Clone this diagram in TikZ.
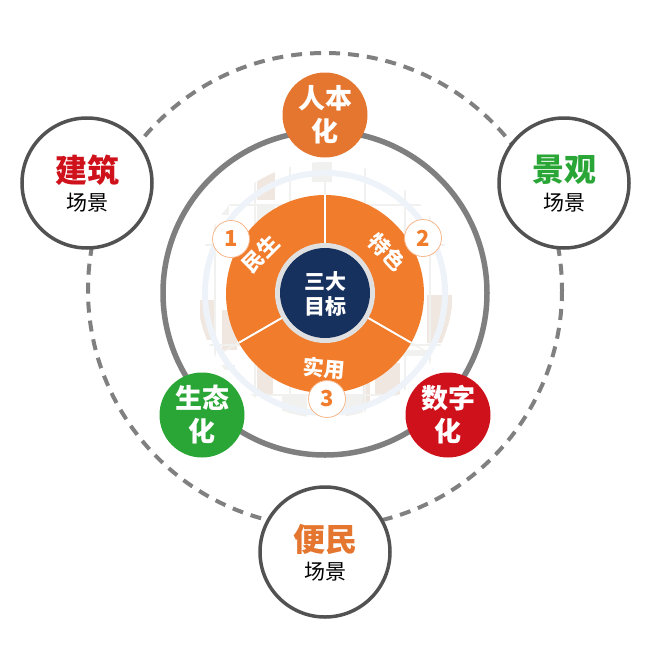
\documentclass[tikz,border=0pt]{standalone}
\usepackage{fontspec}
\setmainfont{Noto Sans CJK SC}
\usetikzlibrary{positioning}
\definecolor{ringgray}{HTML}{7F7F7F}
\definecolor{dashgray}{HTML}{808080}
\definecolor{discorange}{HTML}{F07C2C}
\definecolor{topic}{HTML}{E5762F}
\definecolor{navy}{HTML}{17315F}
\definecolor{leafgreen}{HTML}{2AA637}
\definecolor{signred}{HTML}{CF111B}
\definecolor{paleblue}{HTML}{EEF3F9}
\definecolor{palewood}{HTML}{F0E7E0}
\definecolor{palegray}{HTML}{F1F1EF}
\tikzset{
    topicnode/.style={circle, minimum size=85pt, inner sep=0pt, text=white, align=center,
        font=\fontsize{27}{33}\selectfont\bfseries},
    scenenode/.style={circle, draw=black!68, line width=3.5pt, fill=white, minimum size=130pt,
        inner sep=0pt},
    titletext/.style={inner sep=0pt, font=\fontsize{32}{32}\selectfont\bfseries},
    subtext/.style={inner sep=0pt, font=\fontsize{21}{21}\selectfont},
    numnode/.style={circle, draw=discorange!55, line width=0.8pt, fill=white, text=discorange,
        minimum size=37pt, inner sep=0pt, font=\fontsize{22}{22}\selectfont\bfseries},
    petal/.style={text=white, inner sep=0pt, font=\fontsize{21}{21}\selectfont\bfseries}
}
\begin{document}
\begin{tikzpicture}[x=1pt,y=-1pt]
    \useasboundingbox (0,0) rectangle (653,653);
    % faint building behind the disc
    \begin{scope}
        \clip (325,290) circle (128);
        \foreach \x/\y/\w/\h in {257/172/18/28, 427/295/25/48, 222/310/15/40, 257/357/16/38,
                                 375/363/25/32, 363/383/7/24, 200/300/14/40} {
            \fill[palewood] (\x,\y) rectangle (\x+\w,\y+\h);
        }
        \foreach \x/\y/\w/\h in {312/160/20/22, 257/205/18/20, 215/205/14/10, 400/350/30/6,
                                 282/395/25/25, 345/395/18/25, 205/365/30/5} {
            \fill[palegray] (\x,\y) rectangle (\x+\w,\y+\h);
        }
        \foreach \x in {215,255,290,365,405,430} {
            \draw[palegray, line width=2pt] (\x,160) -- (\x,420);
        }
        \foreach \y in {205,245,345,395} {
            \draw[palegray, line width=2pt] (195,\y) -- (455,\y);
        }
        \draw[paleblue, line width=6pt] (325,293) circle (120);
    \end{scope}
    % rings
    \draw[dashgray, line width=4pt, dash pattern=on 11pt off 8pt] (325,290) circle (237);
    \draw[ringgray, line width=5.5pt] (325,293) circle (162);
    % orange disc
    \fill[discorange] (325,294) circle (99);
    \foreach \a in {-90,30,150} {
        \draw[palegray, line width=1.5pt] (325,293) -- ++(\a:118);
        \draw[white, line width=1.8pt] (325,293) -- ++(\a:99);
    }
    \fill[white!88!black] (325,293) circle (50);
    \fill[navy] (325,293) circle (45);
    \node[text=white, align=center, font=\fontsize{21}{25}\selectfont\bfseries] (center) at (325,294) {三大\\目标};
    % petals
    \node[petal, rotate=45] (minsheng) at (261,254) {民生};
    \node[petal, rotate=-47] (tese) at (387,252) {特色};
    \node[petal, rotate=-5] (shiyong) at (324,368) {实用};
    \node[numnode] (one) at (231,239) {1};
    \node[numnode] (two) at (423,238) {2};
    \node[numnode] (three) at (327,399) {3};
    % topics
    \node[topicnode, fill=topic] (renben) at (325,115) {人本\\化};
    \node[topicnode, fill=leafgreen] (shengtai) at (202,415) {生态\\化};
    \node[topicnode, fill=signred] (shuzi) at (448,415) {数字\\化};
    % scenes
    \foreach \name/\x/\y/\col/\txt in {jianzhu/87/183/signred/建筑, jingguan/564/183/leafgreen/景观,
                                       bianmin/325/552/topic/便民} {
        \node[scenenode] (\name) at (\x,\y) {};
        \node[titletext, text=\col] (\name title) at ([yshift=13pt]\name.center) {\txt};
        \node[subtext] (\name sub) at ([yshift=-20pt]\name.center) {场景};
    }
\end{tikzpicture}
\end{document}
